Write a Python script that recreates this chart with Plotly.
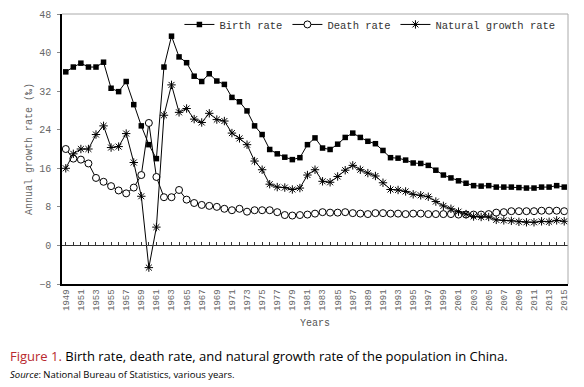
import plotly.graph_objects as go

years = list(range(1949, 2016))

birth_rate = [36.0, 37.0, 37.8, 37.0, 37.0, 38.0, 32.6, 31.9, 34.0, 29.2,
              24.8, 20.9, 18.0, 37.0, 43.4, 39.1, 37.9, 35.1, 34.0, 35.6,
              34.1, 33.4, 30.7, 29.8, 27.9, 24.8, 23.0, 19.9, 19.0, 18.3,
              17.8, 18.2, 20.9, 22.3, 20.2, 19.9, 21.0, 22.4, 23.3, 22.4,
              21.6, 21.1, 19.7, 18.2, 18.1, 17.7, 17.1, 17.0, 16.6, 15.6,
              14.6, 14.0, 13.4, 12.9, 12.4, 12.3, 12.4, 12.1, 12.1, 12.1,
              12.0, 11.9, 11.9, 12.1, 12.1, 12.4, 12.1]

death_rate = [20.0, 18.0, 17.8, 17.0, 14.0, 13.2, 12.3, 11.4, 10.8, 12.0,
              14.6, 25.4, 14.2, 10.0, 10.0, 11.5, 9.5, 8.8, 8.4, 8.2,
              8.0, 7.6, 7.3, 7.6, 7.0, 7.3, 7.3, 7.3, 6.9, 6.3,
              6.2, 6.3, 6.4, 6.6, 6.9, 6.8, 6.8, 6.9, 6.7, 6.6,
              6.5, 6.7, 6.7, 6.6, 6.6, 6.5, 6.6, 6.6, 6.5, 6.5,
              6.5, 6.5, 6.4, 6.4, 6.4, 6.4, 6.5, 6.8, 6.9, 7.1,
              7.1, 7.1, 7.1, 7.2, 7.2, 7.2, 7.1]

natural_growth = [16.0, 19.0, 20.0, 20.0, 23.0, 24.8, 20.3, 20.5, 23.2, 17.2,
                  10.2, -4.6, 3.8, 27.0, 33.3, 27.6, 28.4, 26.2, 25.5, 27.4,
                  26.1, 25.8, 23.3, 22.2, 20.9, 17.5, 15.7, 12.7, 12.1, 12.0,
                  11.6, 11.9, 14.6, 15.7, 13.3, 13.1, 14.3, 15.6, 16.6, 15.7,
                  15.0, 14.4, 13.0, 11.6, 11.5, 11.2, 10.6, 10.4, 10.1, 9.1,
                  8.2, 7.6, 7.0, 6.5, 6.0, 5.9, 5.9, 5.3, 5.2, 5.1,
                  4.9, 4.8, 4.8, 5.0, 4.9, 5.2, 5.0]

tick_years = list(range(1949, 2016, 2))
y_ticks = [-8, 0, 8, 16, 24, 32, 40, 48]

MONO = "Liberation Mono"
line = dict(color="black", width=1)

fig = go.Figure()
fig.add_trace(go.Scatter(x=years, y=birth_rate, name="Birth rate", mode="lines+markers",
                         line=line, marker=dict(symbol="square", size=5.5, color="black")))
fig.add_trace(go.Scatter(x=years, y=death_rate, name="Death rate", mode="lines+markers",
                         line=line, marker=dict(symbol="circle", size=7, color="white",
                                                line=dict(color="black", width=1))))
fig.add_trace(go.Scatter(x=years, y=natural_growth, name="Natural growth rate", mode="lines+markers",
                         line=line, marker=dict(symbol="asterisk-open", size=7, color="black",
                                                line=dict(color="black", width=1))))
# invisible trace carrying the zero-line axis with year ticks
fig.add_trace(go.Scatter(x=years, y=[0] * len(years), xaxis="x2", mode="lines",
                         line=dict(color="rgba(0,0,0,0)"), showlegend=False, hoverinfo="skip"))

fig.update_layout(
    width=584, height=387,
    margin=dict(l=62, r=16, t=10, b=103),
    paper_bgcolor="white", plot_bgcolor="white",
    font=dict(family=MONO, size=10, color="#444"),
    showlegend=True,
    legend=dict(orientation="h", x=0.985, xanchor="right", y=1.015, yanchor="top",
                font=dict(family=MONO, size=10.5, color="#333"),
                bgcolor="rgba(0,0,0,0)", itemwidth=30, tracegroupgap=0),
    xaxis=dict(range=[1948.5, 2015.5], tickvals=tick_years, ticktext=[str(t) for t in tick_years],
               tickangle=-90, showline=True, linecolor="black", linewidth=1.5, ticks="",
               showgrid=False, zeroline=False, tickfont=dict(size=9, color="#666"),
               automargin=False,
               title=dict(text="Years", font=dict(size=10, color="#555"), standoff=9)),
    xaxis2=dict(range=[1948.5, 2015.5], overlaying="x", anchor="free", position=8 / 56,
                side="bottom", showline=True, linecolor="#333", linewidth=1,
                tickvals=years, ticks="inside", ticklen=3, tickcolor="#333",
                showticklabels=False, showgrid=False, zeroline=False, automargin=False),
    yaxis=dict(range=[-8, 48], tickvals=y_ticks, showline=True, linecolor="black", linewidth=1.5,
               ticks="outside", ticklen=3, tickcolor="#888", showgrid=False, zeroline=False,
               tickfont=dict(size=10, color="#666"), ticklabelstandoff=4, automargin=False,
               ticklabeloverflow="allow",
               title=dict(text="Annual growth rate (‰)", font=dict(size=10, color="#666"), standoff=5)),
)

# gray top/right frame
fig.add_shape(type="line", xref="paper", yref="paper", x0=0, x1=1, y0=1, y1=1,
              line=dict(color="#aaa", width=1))
fig.add_shape(type="line", xref="paper", yref="paper", x0=1, x1=1, y0=0, y1=1,
              line=dict(color="#aaa", width=1))

fig.add_annotation(xref="paper", yref="paper", x=-0.107, y=-0.265, xanchor="left", yanchor="middle",
                   showarrow=False, align="left",
                   text="<span style='color:#b8282e'>Figure 1.</span> Birth rate, death rate, and natural growth rate of the population in China.",
                   font=dict(family="Open Sans", size=13, color="black"))
fig.add_annotation(xref="paper", yref="paper", x=-0.107, y=-0.335, xanchor="left", yanchor="middle",
                   showarrow=False, align="left",
                   text="<i>Source</i>: National Bureau of Statistics, various years.",
                   font=dict(family="Open Sans", size=9.5, color="black"))

# remove the browser's default 8px body margin so the figure fills the window
fig.write_html("out.html", config={"displayModeBar": False},
               post_script="document.body.style.margin='0';")
